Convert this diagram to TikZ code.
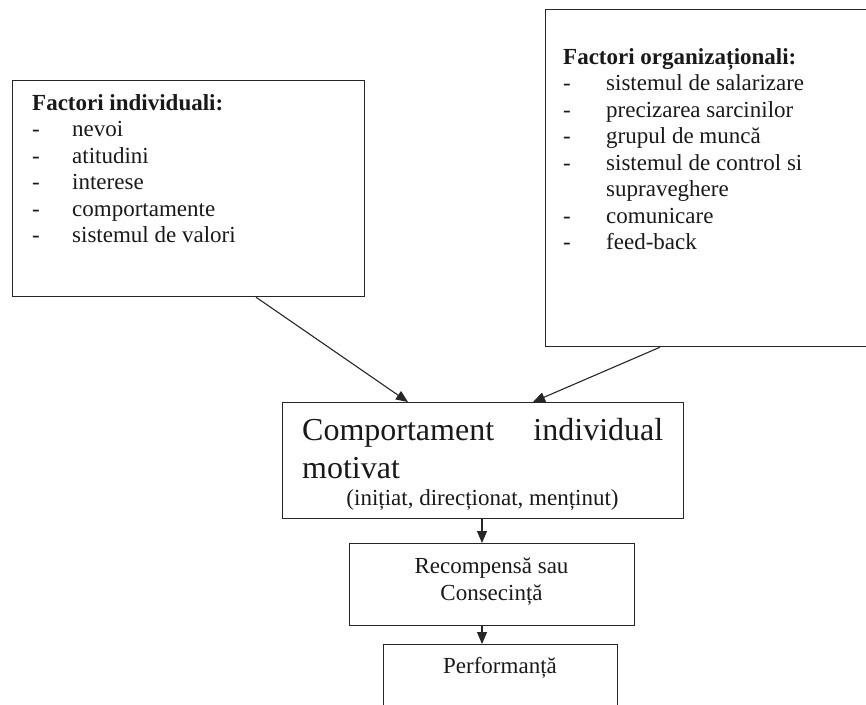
\documentclass[tikz,border=0pt]{standalone}
\usepackage{fontspec}
\setmainfont{Liberation Serif}
\usetikzlibrary{arrows.meta,calc}
\tikzset{
  box/.style={draw=black!85, line width=1.2pt, rectangle, inner sep=0pt, anchor=north west},
  txt/.style={inner sep=0pt, font=\fontsize{23}{26.5}\selectfont, text=black!90},
  big/.style={inner sep=0pt, font=\fontsize{32}{38}\selectfont, text=black!90},
  arr/.style={draw=black!85, line width=1.1pt, -{Triangle[length=12pt,width=10pt]}},
}
\begin{document}
\begin{tikzpicture}[x=1pt,y=-1pt]
\useasboundingbox (0,0) rectangle (866,704);
% boxes
\node[box, minimum width=352pt, minimum height=216pt] (ind) at (12,80) {};
\node[box, minimum width=340pt, minimum height=337pt] (org) at (545,9) {};
\node[box, minimum width=401pt, minimum height=116pt] (comp) at (282,402) {};
\node[box, minimum width=285pt, minimum height=82pt] (rec) at (349,543) {};
\node[box, minimum width=234pt, minimum height=80pt] (perf) at (383,644) {};
% texts
\node[txt, anchor=base west] (indtxt) at (32,110) {\begin{tabular}[t]{@{}p{40pt}@{}l@{}}\multicolumn{2}{@{}l@{}}{\textbf{Factori individuali:}}\\ -&nevoi\\ -&atitudini\\ -&interese\\ -&comportamente\\ -&sistemul de valori\end{tabular}};
\node[txt, anchor=base west] (orgtxt) at (563,64) {\begin{tabular}[t]{@{}p{43pt}@{}l@{}}\multicolumn{2}{@{}l@{}}{\textbf{Factori organizaționali:}}\\ -&sistemul de salarizare\\ -&precizarea sarcinilor\\ -&grupul de muncă\\ -&sistemul de control si\\ &supraveghere\\ -&comunicare\\ -&feed-back\end{tabular}};
\node[big, anchor=base west] (c1) at (302,440) {\makebox[361pt][s]{Comportament individual}};
\node[big, anchor=base west] (c2) at (302,478) {motivat};
\node[txt, anchor=base] (c3) at (482.5,505) {(inițiat, direcționat, menținut)};
\node[txt, anchor=base] (r1) at (491.5,573) {Recompensă sau};
\node[txt, anchor=base] (r2) at (491.5,600) {Consecință};
\node[txt, anchor=base] (p1) at (500,673) {Performanță};
% arrows
\draw[arr] ($(ind.south west)+(244,0)$) -- ($(comp.north west)+(126,0)$);
\draw[arr] ($(org.south west)+(115,0)$) -- ($(comp.north west)+(251,0)$);
\draw[arr] ($(comp.south west)+(200,0)$) -- ($(rec.north west)+(133,0)$);
\draw[arr] ($(rec.south west)+(133,0)$) -- ($(perf.north west)+(99,0)$);
\end{tikzpicture}
\end{document}
